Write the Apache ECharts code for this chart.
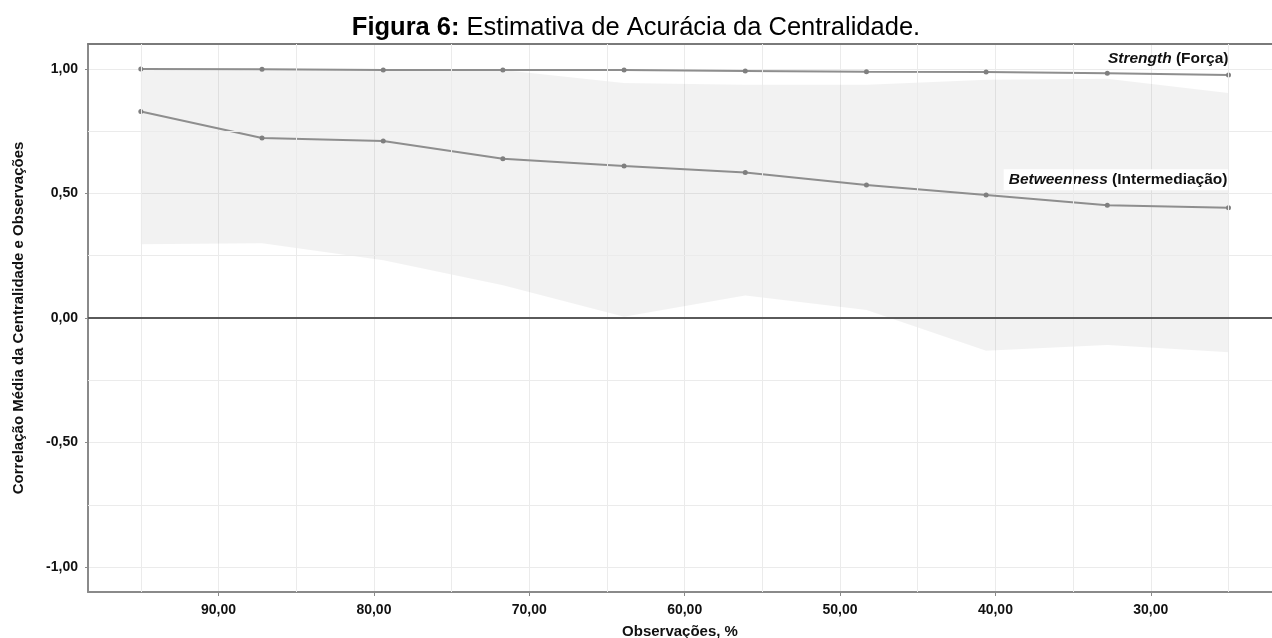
<!DOCTYPE html>
<html>
<head>
<meta charset="utf-8">
<script src="https://cdn.jsdelivr.net/npm/echarts@6/dist/echarts.min.js"></script>
<style>
  html, body { margin: 0; padding: 0; background: #ffffff; }
  #chart { width: 1272px; height: 638px; }
</style>
</head>
<body>
<div id="chart"></div>
<script>
// Percentual de observações mantidas em cada passo do bootstrap
const observacoes = [95.0, 87.2, 79.4, 71.7, 63.9, 56.1, 48.3, 40.6, 32.8, 25.0];

// Correlação média com a amostra original
const strength = [1.000, 0.999, 0.996, 0.996, 0.996, 0.992, 0.989, 0.988, 0.983, 0.976];
const betweenness = [0.829, 0.723, 0.711, 0.639, 0.610, 0.584, 0.534, 0.494, 0.453, 0.443];

// Limites da faixa sombreada (intervalo dos valores)
const faixaSuperior = [1.000, 0.999, 0.996, 0.996, 0.943, 0.936, 0.936, 0.956, 0.960, 0.903];
const faixaInferior = [0.296, 0.300, 0.232, 0.131, 0.005, 0.090, 0.032, -0.131, -0.108, -0.137];

// Linhas de grade secundárias e linha de referência
const gradeY = [-0.75, -0.25, 0.25, 0.75];
const gradeX = [95, 85, 75, 65, 55, 45, 35, 25];
const linhaZero = 0;

const tituloNegrito = 'Figura 6:';
const tituloTexto = 'Estimativa de Acurácia da Centralidade.';
const nomeX = 'Observações, %';
const nomeY = 'Correlação Média da Centralidade e Observações';
const rotuloStrength = ['Strength', '(Força)'];
const rotuloBetweenness = ['Betweenness', '(Intermediação)'];

const FONT = '"Liberation Sans", Arial, Helvetica, sans-serif';
const fmt = v => v.toFixed(2).replace('.', ',');

const xRange = { min: 22.2, max: 98.4 };
const yRange = { min: -1.1, max: 1.1 };

const chart = echarts.init(document.getElementById('chart'), null, { renderer: 'canvas' });

function pontos(ys, rotulo) {
  return observacoes.map((x, i) => {
    if (i === observacoes.length - 1) {
      return { value: [x, ys[i]], label: rotulo };
    }
    return [x, ys[i]];
  });
}

const estiloLinha = { color: '#8e8e8e', width: 2 };
const estiloPonto = { color: '#7f7f7f' };
const textoEixo = { fontFamily: FONT, fontSize: 14, fontWeight: 'bold', color: '#111111' };
const textoNome = { fontFamily: FONT, fontSize: 15, fontWeight: 'bold', color: '#111111' };
const TAM_ROTULO = 15.5;

function rotuloSerie(partes, extra) {
  return Object.assign({
    show: true,
    position: 'top',
    align: 'right',
    formatter: '{i|' + partes[0] + '} ' + partes[1],
    fontFamily: FONT,
    fontSize: TAM_ROTULO,
    fontWeight: 'bold',
    color: '#111111',
    rich: {
      i: { fontFamily: FONT, fontSize: TAM_ROTULO, fontWeight: 'bold', fontStyle: 'italic', color: '#111111' }
    }
  }, extra);
}

chart.setOption({
  animation: false,
  backgroundColor: '#ffffff',
  title: {
    left: 'center',
    top: 15,
    padding: 0,
    text: '{b|' + tituloNegrito + '} ' + tituloTexto,
    textStyle: {
      fontFamily: FONT,
      fontSize: 25.5,
      fontWeight: 'normal',
      color: '#000000',
      rich: {
        b: { fontFamily: FONT, fontSize: 25.5, fontWeight: 'bold', color: '#000000' }
      }
    }
  },
  grid: { left: 88, right: 0, top: 44, bottom: 46, containLabel: false, outerBoundsMode: 'none' },
  xAxis: [
    {
      type: 'value',
      inverse: true,
      position: 'bottom',
      min: xRange.min,
      max: xRange.max,
      minInterval: 10,
      maxInterval: 10,
      name: nomeX,
      nameLocation: 'middle',
      nameGap: 32,
      nameTextStyle: textoNome,
      axisLine: { show: true, onZero: false, lineStyle: { color: '#8a8a8a', width: 2 } },
      axisTick: { show: true, length: 4, lineStyle: { color: '#8a8a8a', width: 1 } },
      axisLabel: Object.assign({
        showMinLabel: false,
        showMaxLabel: false,
        margin: 11,
        formatter: fmt
      }, textoEixo),
      splitLine: { show: true, lineStyle: { color: '#ebebeb', width: 1 } }
    },
    {
      type: 'value',
      inverse: true,
      position: 'top',
      min: xRange.min,
      max: xRange.max,
      axisLine: { show: true, onZero: false, lineStyle: { color: '#7a7a7a', width: 2 } },
      axisTick: { show: false },
      axisLabel: { show: false },
      splitLine: { show: false }
    }
  ],
  yAxis: {
    type: 'value',
    position: 'left',
    min: yRange.min,
    max: yRange.max,
    minInterval: 0.5,
    maxInterval: 0.5,
    name: nomeY,
    nameLocation: 'middle',
    nameGap: 62,
    nameTextStyle: textoNome,
    axisLine: { show: true, onZero: false, lineStyle: { color: '#8a8a8a', width: 2 } },
    axisTick: { show: true, length: 3, lineStyle: { color: '#8a8a8a', width: 1 } },
    axisLabel: Object.assign({
      showMinLabel: false,
      showMaxLabel: false,
      margin: 10,
      formatter: fmt
    }, textoEixo),
    splitLine: { show: true, lineStyle: { color: '#ebebeb', width: 1 } }
  },
  series: [
    {
      name: 'faixa',
      type: 'custom',
      silent: true,
      z: 1,
      data: observacoes.map((x, i) => [x, faixaInferior[i], faixaSuperior[i]]),
      encode: { x: 0, y: [1, 2] },
      renderItem: function (params, api) {
        if (params.dataIndex !== 0) return null;
        const pts = [];
        for (let i = 0; i < observacoes.length; i++) {
          pts.push(api.coord([observacoes[i], faixaSuperior[i]]));
        }
        for (let i = observacoes.length - 1; i >= 0; i--) {
          pts.push(api.coord([observacoes[i], faixaInferior[i]]));
        }
        return {
          type: 'polygon',
          shape: { points: pts },
          style: { fill: 'rgba(0,0,0,0.052)' }
        };
      },
      markLine: {
        silent: true,
        symbol: 'none',
        label: { show: false },
        lineStyle: { color: '#ebebeb', width: 1, type: 'solid' },
        data: gradeY.map(v => ({ yAxis: v })).concat(gradeX.map(v => ({ xAxis: v })))
      }
    },
    {
      name: 'Strength',
      type: 'line',
      z: 3,
      data: pontos(strength, rotuloSerie(rotuloStrength, { distance: 6 })),
      symbol: 'circle',
      symbolSize: 5,
      lineStyle: estiloLinha,
      itemStyle: estiloPonto,
      markLine: {
        silent: true,
        symbol: 'none',
        label: { show: false },
        lineStyle: { color: '#5a5a5a', width: 2, type: 'solid' },
        data: [{ yAxis: linhaZero }]
      }
    },
    {
      name: 'Betweenness',
      type: 'line',
      z: 3,
      data: pontos(betweenness, rotuloSerie(rotuloBetweenness, {
        distance: 15,
        backgroundColor: '#ffffff',
        padding: [3, 1, 2, 5]
      })),
      symbol: 'circle',
      symbolSize: 5,
      lineStyle: estiloLinha,
      itemStyle: estiloPonto
    }
  ]
});
</script>
</body>
</html>
